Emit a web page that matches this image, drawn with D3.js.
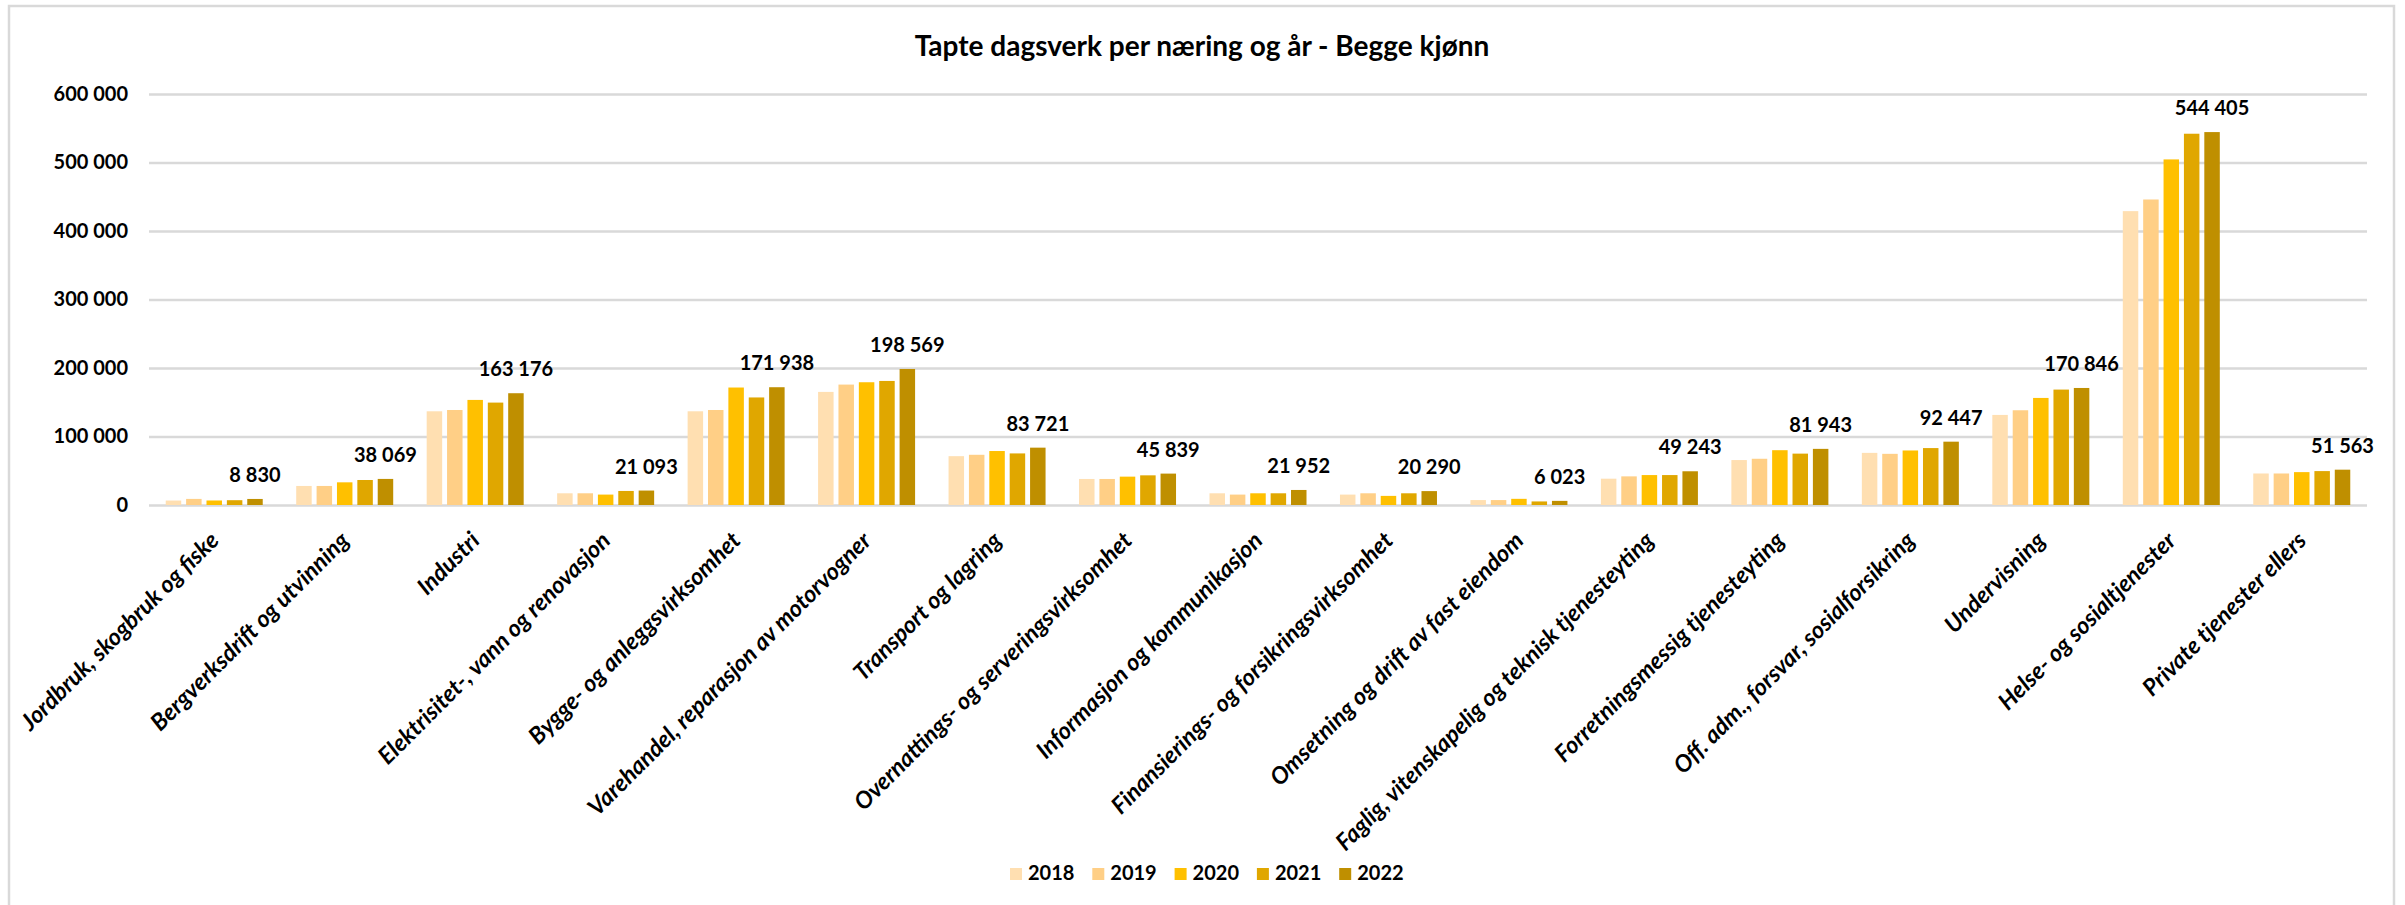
<!DOCTYPE html>
<html>
<head>
<meta charset="utf-8">
<script src="https://cdn.jsdelivr.net/npm/d3@7"></script>
<style>
  body { margin: 0; background: #fff; }
  svg text { font-family: Lato, 'Open Sans', sans-serif; fill: #000; }
</style>
</head>
<body>
<div id="chart"></div>
<script>
let categories = [
  'Jordbruk, skogbruk og fiske',
  'Bergverksdrift og utvinning',
  'Industri',
  'Elektrisitet-, vann og renovasjon',
  'Bygge- og anleggsvirksomhet',
  'Varehandel, reparasjon av motorvogner',
  'Transport og lagring',
  'Overnattings- og serveringsvirksomhet',
  'Informasjon og kommunikasjon',
  'Finansierings- og forsikringsvirksomhet',
  'Omsetning og drift av fast eiendom',
  'Faglig, vitenskapelig og teknisk tjenesteyting',
  'Forretningsmessig tjenesteyting',
  'Off. adm., forsvar, sosialforsikring',
  'Undervisning',
  'Helse- og sosialtjenester',
  'Private tjenester ellers'
];
let years = ['2018', '2019', '2020', '2021', '2022'];
let v2018 = [6500, 27800, 136800, 17100, 136800, 165100, 71300, 38000, 17100, 15200, 7200, 38400, 65600, 76100, 131500, 429000, 46000];
let v2019 = [8900, 27800, 138700, 17100, 138700, 175800, 73300, 38000, 15200, 17100, 7200, 41800, 67500, 74700, 138300, 446000, 46000];
let v2020 = [6600, 33100, 153400, 15200, 171500, 179200, 78800, 41400, 17100, 13300, 9000, 43700, 80000, 79600, 156300, 504500, 48000];
let v2021 = [7000, 36500, 149500, 20500, 157000, 181100, 75300, 43300, 17100, 17100, 5200, 43700, 75000, 83100, 168500, 542000, 49500];
let v2022 = [8830, 38069, 163176, 21093, 171938, 198569, 83721, 45839, 21952, 20290, 6023, 49243, 81943, 92447, 170846, 544405, 51563];
let yTicks = [0, 100000, 200000, 300000, 400000, 500000, 600000];
let colors = ['#FFDFB1', '#FFCF86', '#FFC000', '#E0A700', '#BF8F00'];

let series = [v2018, v2019, v2020, v2021, v2022];
let W = 2405, H = 905;
let fmt = d3.formatLocale({ decimal: ',', thousands: '\u00a0', grouping: [3], currency: ['', ''] }).format(',d');

let svg = d3.select('#chart').append('svg')
            .attr('width', W)
            .attr('height', H);

// chart frame
svg.append('rect')
   .attr('x', 9).attr('y', 6)
   .attr('width', 2385).attr('height', 920)
   .attr('fill', '#fff')
   .attr('stroke', '#D9D9D9')
   .attr('stroke-width', 2.5);

svg.append('text')
   .attr('x', 1202).attr('y', 56)
   .attr('text-anchor', 'middle')
   .style('font-size', '28px')
   .style('font-weight', 'bold')
   .text('Tapte dagsverk per næring og år - Begge kjønn');

let x = d3.scaleBand().domain(categories).range([149, 2367]);
let xSub = d3.scaleBand().domain(years).range([0, 97]).paddingInner(0.24);
let y = d3.scaleLinear().domain([0, 600000]).range([505, 94]);
let groupOff = (x.bandwidth() - 97) / 2;

// gridlines + y labels
svg.append('g')
   .attr('class', 'yaxis')
   .attr('transform', 'translate(149,0)')
   .call(d3.axisLeft(y).tickValues(yTicks).tickSize(-(2367 - 149)).tickPadding(21).tickFormat(fmt))
   .call(g => g.select('.domain').remove())
   .call(g => g.selectAll('line').attr('stroke', '#D9D9D9').attr('stroke-width', 2.5))
   .selectAll('text')
   .style('font-size', '20px')
   .style('font-weight', 'bold')
   .attr('fill', '#000');

// bars
let groups = svg.selectAll('g.year')
                .data(series)
                .enter()
                .append('g')
                .attr('class', 'year')
                .attr('fill', (v, i) => colors[i]);

groups.each(function(vals, si) {
  d3.select(this).selectAll('rect')
    .data(vals)
    .enter()
    .append('rect')
    .attr('x', (v, i) => x(categories[i]) + groupOff + xSub(years[si]))
    .attr('y', v => y(v))
    .attr('width', xSub.bandwidth())
    .attr('height', v => y(0) - y(v));
});

// data labels for 2022
svg.selectAll('.dlabel')
   .data(v2022)
   .enter()
   .append('text')
   .attr('class', 'dlabel')
   .attr('x', (v, i) => x(categories[i]) + groupOff + xSub('2022') + xSub.bandwidth() / 2)
   .attr('y', v => y(v) - 17)
   .attr('text-anchor', 'middle')
   .style('font-size', '20px')
   .style('font-weight', 'bold')
   .text(v => fmt(v));

// category labels
svg.selectAll('.clabel')
   .data(categories)
   .enter()
   .append('text')
   .attr('class', 'clabel')
   .attr('text-anchor', 'end')
   .attr('transform', c => `translate(${x(c) + x.bandwidth() / 2 + 6}, 542) rotate(-45)`)
   .style('font-size', '23.5px')
   .style('font-weight', 'bold')
   .style('font-style', 'italic')
   .text(c => c);

// legend
let legend = svg.selectAll('.legend')
                .data(years)
                .enter()
                .append('g')
                .attr('class', 'legend')
                .attr('transform', (v, i) => `translate(${1010 + i * 82.3}, 868)`);
legend.append('rect')
      .attr('width', 12).attr('height', 12)
      .attr('fill', (v, i) => colors[i]);
legend.append('text')
      .attr('x', 18).attr('y', 12)
      .style('font-size', '20px')
      .style('font-weight', 'bold')
      .text(v => v);
</script>
</body>
</html>
